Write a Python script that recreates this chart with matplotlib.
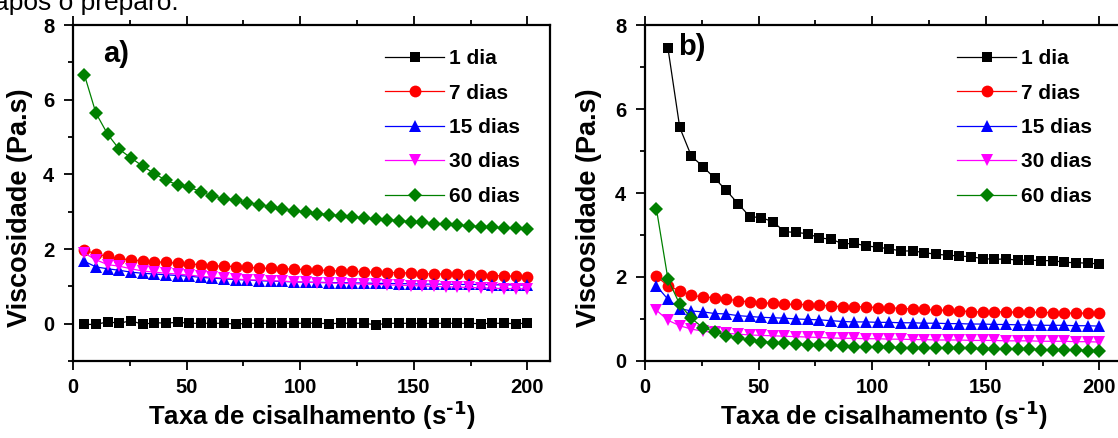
import matplotlib
matplotlib.use("Agg")
import matplotlib.pyplot as plt
from matplotlib.ticker import MultipleLocator

plt.rcParams['font.family'] = ['Liberation Sans', 'DejaVu Sans']
plt.rcParams['font.weight'] = 'bold'
plt.rcParams['mathtext.default'] = 'regular'

# ---------------- data ----------------
shear = [5, 10.1, 15.3, 20.4, 25.5, 30.7, 35.8, 40.9, 46.1, 51.2, 56.3, 61.4, 66.6,
         71.7, 76.8, 82.0, 87.1, 92.2, 97.4, 102.5, 107.6, 112.8, 117.9, 123.0, 128.2,
         133.3, 138.4, 143.6, 148.7, 153.8, 158.9, 164.1, 169.2, 174.3, 179.5, 184.6,
         189.7, 194.9, 200]

labels = ["1 dia", "7 dias", "15 dias", "30 dias", "60 dias"]

# panel a)
a_1dia = [-0.02, -0.02, 0.05, 0.01, 0.08, -0.02, 0.03, 0.01, 0.04, 0.01, 0.01, 0.01, 0.01,
          -0.01, 0.01, 0.01, 0.01, 0.01, 0.01, 0.01, 0.01, 0.0, 0.01, 0.01, 0.01,
          -0.03, 0.01, 0.01, 0.01, 0.01, 0.01, 0.01, 0.01, 0.01, 0.0, 0.01,
          0.01, 0.0, 0.01]
a_7dias = [1.97, 1.87, 1.80, 1.74, 1.71, 1.68, 1.66, 1.64, 1.62, 1.60, 1.58, 1.55, 1.54,
           1.53, 1.51, 1.49, 1.48, 1.47, 1.46, 1.45, 1.44, 1.42, 1.41, 1.40, 1.39,
           1.38, 1.37, 1.37, 1.35, 1.34, 1.33, 1.33, 1.32, 1.31, 1.30, 1.29,
           1.28, 1.27, 1.26]
a_15dias = [1.67, 1.52, 1.47, 1.43, 1.38, 1.35, 1.33, 1.31, 1.29, 1.27, 1.24, 1.22, 1.20,
            1.18, 1.17, 1.15, 1.14, 1.13, 1.12, 1.11, 1.11, 1.10, 1.10, 1.09, 1.09,
            1.08, 1.08, 1.07, 1.07, 1.06, 1.06, 1.06, 1.05, 1.05, 1.05, 1.04,
            1.04, 1.04, 1.03]
a_30dias = [1.89, 1.71, 1.58, 1.54, 1.47, 1.41, 1.38, 1.35, 1.33, 1.30, 1.27, 1.24, 1.22,
            1.20, 1.17, 1.17, 1.15, 1.14, 1.12, 1.11, 1.10, 1.09, 1.08, 1.07, 1.06,
            1.05, 1.04, 1.03, 1.02, 1.01, 1.00, 0.99, 0.98, 0.97, 0.96, 0.95,
            0.94, 0.94, 0.93]
a_60dias = [6.67, 5.64, 5.07, 4.67, 4.44, 4.22, 4.02, 3.84, 3.72, 3.66, 3.53, 3.42, 3.35,
            3.31, 3.24, 3.19, 3.13, 3.08, 3.03, 2.99, 2.95, 2.92, 2.89, 2.86, 2.83,
            2.80, 2.78, 2.76, 2.73, 2.71, 2.68, 2.66, 2.64, 2.62, 2.60, 2.58,
            2.56, 2.55, 2.53]

# panel b)
shear_b_1dia = shear[1:]
b_1dia = [7.45, 5.56, 4.88, 4.63, 4.35, 4.06, 3.75, 3.44, 3.41, 3.32, 3.08, 3.06,
          3.03, 2.93, 2.90, 2.79, 2.80, 2.74, 2.71, 2.67, 2.62, 2.62, 2.58, 2.54,
          2.52, 2.50, 2.48, 2.44, 2.42, 2.43, 2.40, 2.40, 2.39, 2.39, 2.35, 2.34,
          2.33, 2.31]
b_7dias = [2.02, 1.79, 1.67, 1.57, 1.52, 1.51, 1.48, 1.43, 1.41, 1.39, 1.37, 1.35, 1.35,
           1.34, 1.33, 1.31, 1.29, 1.29, 1.29, 1.27, 1.27, 1.25, 1.24, 1.23, 1.21,
           1.21, 1.20, 1.17, 1.17, 1.17, 1.17, 1.16, 1.16, 1.16, 1.15, 1.14,
           1.14, 1.14, 1.14]
b_15dias = [1.79, 1.47, 1.25, 1.19, 1.17, 1.13, 1.12, 1.08, 1.06, 1.04, 1.03, 1.02, 1.00,
            0.99, 0.98, 0.96, 0.94, 0.93, 0.93, 0.92, 0.92, 0.91, 0.91, 0.90, 0.90,
            0.89, 0.89, 0.88, 0.88, 0.87, 0.87, 0.86, 0.86, 0.85, 0.85, 0.85,
            0.84, 0.84, 0.83]
b_30dias = [1.21, 0.97, 0.84, 0.76, 0.71, 0.68, 0.66, 0.64, 0.62, 0.61, 0.60, 0.59, 0.58,
            0.57, 0.56, 0.55, 0.54, 0.54, 0.53, 0.53, 0.52, 0.52, 0.51, 0.51, 0.50,
            0.50, 0.50, 0.49, 0.49, 0.49, 0.48, 0.48, 0.48, 0.47, 0.47, 0.47,
            0.46, 0.46, 0.45]
b_60dias = [3.63, 1.95, 1.35, 1.02, 0.79, 0.70, 0.60, 0.54, 0.50, 0.46, 0.44, 0.42, 0.40,
            0.38, 0.37, 0.37, 0.35, 0.34, 0.34, 0.33, 0.33, 0.32, 0.32, 0.31, 0.31,
            0.30, 0.30, 0.30, 0.29, 0.29, 0.28, 0.28, 0.28, 0.27, 0.27, 0.26,
            0.26, 0.25, 0.25]

xticks = [0, 50, 100, 150, 200]
yticks = [0, 2, 4, 6, 8]

# ---------------- styles ----------------
styles = [
    dict(color='black', marker='s', ms=7.5),
    dict(color='#ff0000', marker='o', ms=8.5),
    dict(color='#0000ff', marker='^', ms=8.5),
    dict(color='#ff00ff', marker='v', ms=8.5),
    dict(color='#008000', marker='D', ms=7.0),
]

W, H = 1118, 438
fig = plt.figure(figsize=(W / 100, H / 100), dpi=100)

ax_w = 477 / W
ax_h = (361 - 25) / H
ax_b = (H - 361) / H
axA = fig.add_axes([73 / W, ax_b, ax_w, ax_h])
axB = fig.add_axes([645 / W, ax_b, ax_w, ax_h])

panels = [
    (axA, [(shear, a_1dia), (shear, a_7dias), (shear, a_15dias), (shear, a_30dias), (shear, a_60dias)],
     (-1, 8), -0.084),
    (axB, [(shear_b_1dia, b_1dia), (shear, b_7dias), (shear, b_15dias), (shear, b_30dias), (shear, b_60dias)],
     (0, 8), -0.09),
]

for ax, series, ylim, ylab_x in panels:
    for (xs, ys), st, lab in zip(series, styles, labels):
        ax.plot(xs, ys, color=st['color'], marker=st['marker'], markersize=st['ms'],
                markeredgewidth=0, linewidth=0.9, label=lab)
    ax.set_xlim(0, 210)
    ax.set_ylim(*ylim)
    ax.set_xticks(xticks)
    ax.set_yticks(yticks)
    ax.xaxis.set_minor_locator(MultipleLocator(25))
    ax.yaxis.set_minor_locator(MultipleLocator(1))
    for s in ax.spines.values():
        s.set_linewidth(1.6)
    ax.tick_params(which='both', direction='out', top=True, right=False, width=1.3,
                   labelsize=14.5)
    ax.tick_params(axis='x', pad=6)
    ax.tick_params(axis='y', pad=7)
    ax.tick_params(which='major', length=6.5)
    ax.tick_params(which='minor', length=3.5)
    ax.set_xlabel(r"Taxa de cisalhamento (s$^{\text{-1}}$)", fontsize=18.5,
                  fontweight='bold', labelpad=1)
    ax.set_ylabel("Viscosidade (Pa.s)", fontsize=19.5, fontweight='bold')
    ax.yaxis.set_label_coords(ylab_x, 0.455)
    ax.legend(loc='upper left', frameon=False, fontsize=15, handlelength=2.8,
              handletextpad=0.25, labelspacing=0.74, borderpad=0, borderaxespad=0,
              bbox_to_anchor=(0.655, 0.928), numpoints=1)

axA.text(0.063, 0.956, "a)", transform=axA.transAxes, fontsize=21, fontweight='bold',
         va='top', ha='left')
axB.text(0.069, 0.977, "b)", transform=axB.transAxes, fontsize=21, fontweight='bold',
         va='top', ha='left')

fig.text(-0.0055, 1 - 10 / H, "após o preparo.", fontsize=19, fontweight='normal',
         va='baseline', ha='left')

fig.savefig("out.png", dpi=100)
